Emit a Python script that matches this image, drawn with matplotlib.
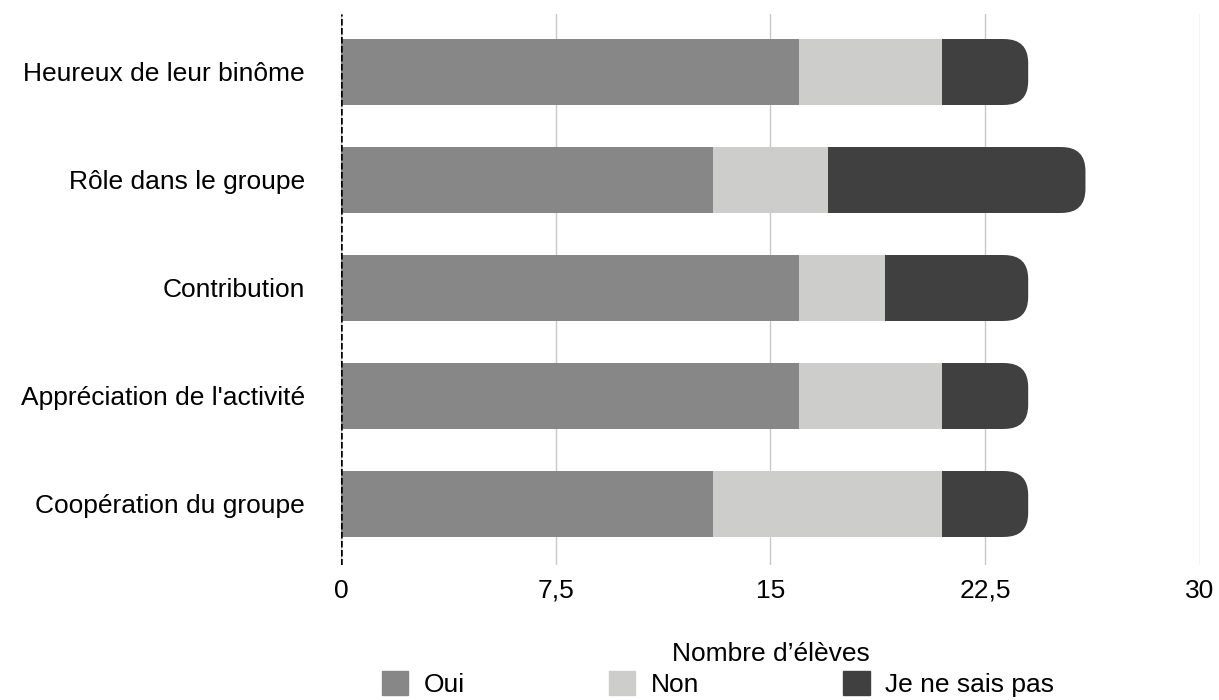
import matplotlib.pyplot as plt
from matplotlib.patches import FancyBboxPatch, Patch
from matplotlib.ticker import FuncFormatter
import numpy as np

plt.rcParams['font.family'] = ['Liberation Sans', 'DejaVu Sans']

categories = ["Heureux de leur binôme", "Rôle dans le groupe", "Contribution",
              "Appréciation de l'activité", "Coopération du groupe"]
oui = [16, 13, 16, 16, 13]
non = [5, 4, 3, 5, 8]
nsp = [3, 9, 5, 3, 3]
series_names = ["Oui", "Non", "Je ne sais pas"]
colors = ["#878787", "#cdcdcc", "#404040"]
xticks = [0, 7.5, 15, 22.5, 30]

W, H = 1219, 700
fig = plt.figure(figsize=(W / 100, H / 100), dpi=100)
left, right, top, bottom = 341, 1200, 14, 565
ax = fig.add_axes([left / W, 1 - bottom / H, (right - left) / W, (bottom - top) / H])

xlim = (0, 30)
ylim = (4.565, -0.537)
ax.set_xlim(*xlim)
ax.set_ylim(*ylim)

y = np.arange(len(categories))
h = 0.61
ax.barh(y, oui, height=h, color=colors[0], zorder=2)
ax.barh(y, non, left=oui, height=h, color=colors[1], zorder=2)

# last segment with rounded right end
x_per_px = (xlim[1] - xlim[0]) / (right - left)
y_per_px = abs(ylim[0] - ylim[1]) / (bottom - top)
r_px = 24
r = r_px * x_per_px
aspect = y_per_px / x_per_px
starts = np.array(oui) + np.array(non)
for yi, s, w in zip(y, starts, nsp):
    ax.barh(yi, w - r, left=s, height=h, color=colors[2], zorder=2)
    box = FancyBboxPatch((s + w - 2.5 * r, yi - h / 2), 2.5 * r, h,
                         boxstyle=f"round,pad=0,rounding_size={r}",
                         mutation_aspect=aspect, fc=colors[2], ec="none", zorder=2)
    ax.add_patch(box)

fs = 19
ax.set_yticks(y)
ax.set_yticklabels(categories, fontsize=fs)
ax.set_xticks(xticks)
ax.xaxis.set_major_formatter(FuncFormatter(lambda v, p: f"{v:g}".replace(".", ",")))
ax.tick_params(axis='x', labelsize=fs, length=0, pad=10)
ax.tick_params(axis='y', length=0, pad=26)
ax.grid(axis='x', color="#c8c8c8", linewidth=1, zorder=0)
for s in ax.spines.values():
    s.set_visible(False)
ax.axvline(0, color="black", linestyle=(0, (2.6, 1.0)), linewidth=1.8, zorder=3)
ax.set_xlabel("Nombre d’élèves", fontsize=fs, labelpad=28)

handles = [Patch(color=c) for c in colors]
fig.legend(handles, series_names, loc="center", bbox_to_anchor=(0.589, 0.023),
           ncol=3, frameon=False, fontsize=fs, handlelength=1.0, handleheight=1.0,
           columnspacing=5.45, handletextpad=0.6, borderpad=0, borderaxespad=0)

fig.savefig("out.png", dpi=100)
